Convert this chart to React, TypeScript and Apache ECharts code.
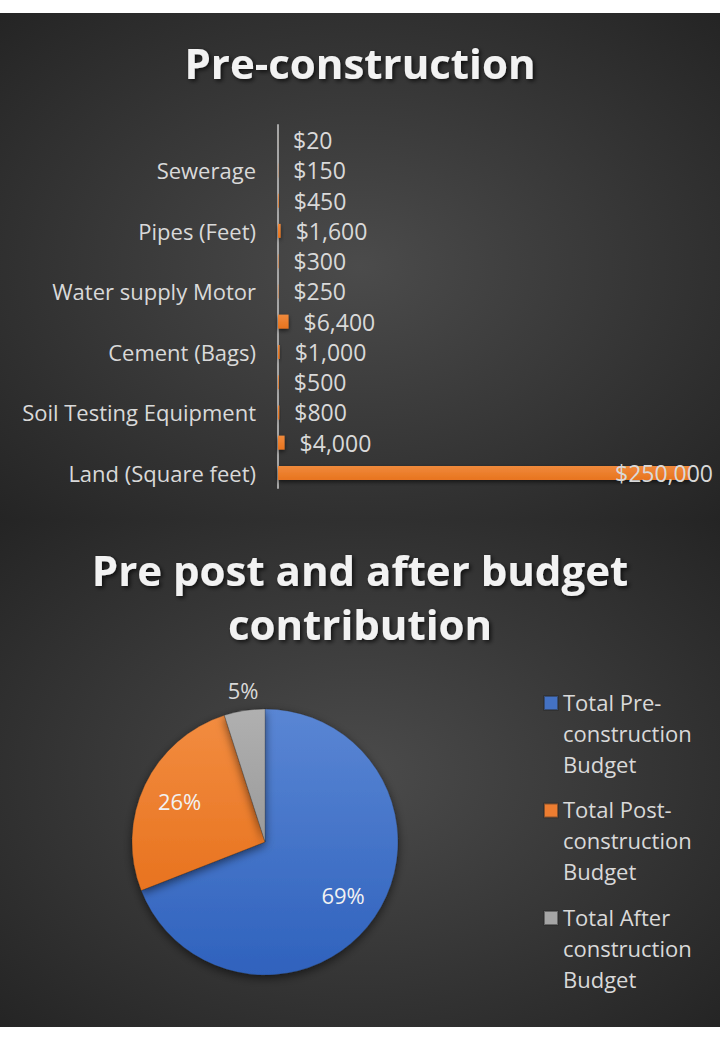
import React, { useEffect, useRef } from "react";
import * as echarts from "echarts";

// ---- Bar chart data (bottom to top) ----
const barCategories = [
  "Land (Square feet)",
  "Item 2",
  "Soil Testing Equipment",
  "Item 4",
  "Cement (Bags)",
  "Item 6",
  "Water supply Motor",
  "Item 8",
  "Pipes (Feet)",
  "Item 10",
  "Sewerage",
  "Item 12",
];
const barValues = [250000, 4000, 800, 500, 1000, 6400, 250, 300, 1600, 450, 150, 20];
const barAxisMax = 250000;

// ---- Pie chart data ----
const pieNames = [
  "Total Pre-construction Budget",
  "Total Post-construction Budget",
  "Total After construction Budget",
];
const pieLegendLabels = [
  "Total Pre-\nconstruction\nBudget",
  "Total Post-\nconstruction\nBudget",
  "Total After\nconstruction\nBudget",
];
const pieValues = [265470, 100000, 19000];

const FONT = "'Open Sans', 'Noto Sans', sans-serif";
const TEXT = "#d9d9d9";

function money(v: number) {
  return "$" + v.toLocaleString("en-US");
}

export default function App() {
  const ref = useRef<HTMLDivElement>(null);

  useEffect(() => {
    if (!ref.current) return;
    const chart = echarts.init(ref.current, undefined, { renderer: "svg" });

    const bgGrad = () =>
      new echarts.graphic.RadialGradient(0.5, 0.5, 0.75, [
        { offset: 0, color: "#4b4b4b" },
        { offset: 1, color: "#222222" },
      ]);

    const pieColors = [
      new echarts.graphic.LinearGradient(0, 0, 0, 1, [
        { offset: 0, color: "#5a86d4" },
        { offset: 1, color: "#2f62bd" },
      ]),
      new echarts.graphic.LinearGradient(0, 0, 0, 1, [
        { offset: 0, color: "#f28c40" },
        { offset: 1, color: "#e8731f" },
      ]),
      new echarts.graphic.LinearGradient(0, 0, 0, 1, [
        { offset: 0, color: "#b0b0b0" },
        { offset: 1, color: "#9a9a9a" },
      ]),
    ];
    const legendIconColors = ["#4472c4", "#ed7d31", "#a5a5a5"];

    const titleStyle = {
      color: "#f2f2f2",
      fontFamily: FONT,
      fontWeight: "bold" as const,
      fontSize: 42,
      textShadowColor: "rgba(0,0,0,0.7)",
      textShadowBlur: 4,
      textShadowOffsetX: 2,
      textShadowOffsetY: 2,
    };

    const option: any = {
      animation: false,
      graphic: [
        {
          type: "rect",
          z: -10,
          shape: { x: 0, y: 13, width: 720, height: 507 },
          style: { fill: bgGrad() },
          silent: true,
        },
        {
          type: "rect",
          z: -10,
          shape: { x: 0, y: 520, width: 720, height: 507 },
          style: { fill: bgGrad() },
          silent: true,
        },
      ],
      title: [
        {
          text: "Pre-construction",
          left: "center",
          top: 36,
          textStyle: { ...titleStyle },
        },
        {
          text: "Pre post and after budget\ncontribution",
          left: "center",
          top: 537,
          textStyle: { ...titleStyle, lineHeight: 54 },
        },
      ],
      grid: { left: 278, top: 125, width: 412, height: 363 },
      xAxis: {
        type: "value",
        min: 0,
        max: barAxisMax,
        show: false,
      },
      yAxis: {
        type: "category",
        data: barCategories,
        axisLine: { show: true, lineStyle: { color: "#a6a6a6", width: 2 } },
        axisTick: { show: false },
        axisLabel: {
          interval: (index: number) => index % 2 === 0,
          color: TEXT,
          fontFamily: FONT,
          fontSize: 22,
          margin: 22,
        },
      },
      legend: {
        orient: "vertical",
        left: 543,
        top: 685,
        padding: 0,
        itemWidth: 14,
        itemHeight: 93,
        itemGap: 12.5,
        data: pieNames.map((n, i) => ({
          name: n,
          icon: "path://M0,0L0,0M0,10h14v14h-14zM0,93L0,93",
          itemStyle: { color: legendIconColors[i] },
        })),
        formatter: (name: string) => pieLegendLabels[pieNames.indexOf(name)],
        textStyle: { color: TEXT, fontFamily: FONT, fontSize: 22, lineHeight: 31 },
        selectedMode: false,
      },
      series: [
        {
          type: "bar",
          data: barValues.map((v, i) =>
            i === 0
              ? { value: v, label: { position: "insideRight", distance: 0, offset: [23, 0] } }
              : v
          ),
          barWidth: 14,
          itemStyle: {
            color: new echarts.graphic.LinearGradient(0, 0, 0, 1, [
              { offset: 0, color: "#f08a3c" },
              { offset: 1, color: "#e8741f" },
            ]),
            shadowColor: "rgba(0,0,0,0.6)",
            shadowBlur: 4,
            shadowOffsetY: 2,
          },
          label: {
            show: true,
            position: "right",
            distance: 15,
            color: TEXT,
            fontFamily: FONT,
            fontSize: 23,
            formatter: (p: any) => money(p.value),
          },
        },
        {
          type: "pie",
          center: [265, 842],
          radius: [0, 133],
          startAngle: 90,
          clockwise: true,
          percentPrecision: 0,
          labelLayout: (p: any) => (p.dataIndex === 2 ? { dx: 20, dy: -15 } : {}),
          data: pieNames.map((n, i) => ({
            name: n,
            value: pieValues[i],
            itemStyle: { color: pieColors[i] },
            label:
              i === 2
                ? {
                    show: true,
                    position: "outside",
                    formatter: "{d}%",
                    color: TEXT,
                    fontFamily: FONT,
                    fontSize: 22,
                  }
                : { show: false },
            labelLine: { show: false, length: 6, length2: 0 },
          })),
          itemStyle: {
            borderColor: "rgba(40,40,40,0.5)",
            borderWidth: 0.5,
            shadowColor: "rgba(0,0,0,0.55)",
            shadowBlur: 10,
            shadowOffsetY: 3,
          },
          emphasis: { disabled: true },
        },
        {
          type: "pie",
          center: [265, 842],
          radius: [50, 133],
          startAngle: 90,
          clockwise: true,
          silent: true,
          percentPrecision: 0,
          legendHoverLink: false,
          data: pieNames.map((n, i) => ({
            name: n,
            value: pieValues[i],
            label: { show: i !== 2 },
          })),
          itemStyle: { color: "rgba(0,0,0,0)" },
          label: {
            position: "inside",
            formatter: "{d}%",
            color: "#f2f2f2",
            fontFamily: FONT,
            fontSize: 22,
          },
          labelLine: { show: false },
          emphasis: { disabled: true },
        },
      ],
    };

    chart.setOption(option);
    return () => chart.dispose();
  }, []);

  return (
    <div
      style={{
        position: "absolute",
        left: 0,
        top: 0,
        width: 720,
        height: 1040,
        background: "#ffffff",
      }}
    >
      <div ref={ref} style={{ width: 720, height: 1040 }} />
    </div>
  );
}
